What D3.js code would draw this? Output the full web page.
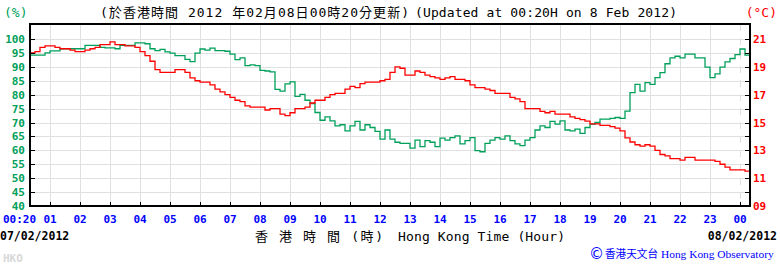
<!DOCTYPE html>
<html lang="zh-Hant">
<head>
<meta charset="UTF-8">
<title>Humidity / Temperature - Hong Kong Observatory</title>
<script src="https://d3js.org/d3.v7.min.js"></script>
<style>
  body { margin: 0; background: #fff; }
  svg { display: block; }
  .mono { font-family: "DejaVu Sans Mono", "Noto Sans CJK TC", monospace; }
  .tick { font-family: "DejaVu Sans Mono", monospace; font-weight: bold; font-size: 11px; }
</style>
</head>
<body>
<div id="chart"></div>
<script>
// readings every 10 minutes starting 07/02/2012 00:20
const startTime = new Date(2012, 1, 7, 0, 20);
const stepMinutes = 10;

// relative humidity (%)
const humidity = [
  94.2, 94.2, 94.2, 95.0, 95.7, 95.7, 96.5, 96.5, 96.5, 96.5,
  96.5, 97.7, 97.7, 97.7, 97.0, 96.8, 96.8, 96.5, 97.7, 97.7,
  97.7, 98.6, 98.6, 98.3, 96.5, 95.8, 96.3, 95.4, 94.9, 94.0,
  94.0, 92.7, 91.9, 94.9, 96.4, 96.0, 96.7, 95.8, 95.8, 95.6,
  94.6, 92.6, 93.2, 90.4, 90.7, 90.4, 88.7, 88.5, 88.2, 81.9,
  81.3, 83.9, 84.6, 79.4, 80.1, 78.0, 76.8, 73.6, 70.8, 72.0,
  70.6, 68.8, 69.2, 67.0, 68.8, 70.4, 67.3, 69.2, 68.2, 66.8,
  64.0, 67.3, 64.0, 62.9, 62.5, 62.5, 60.8, 63.7, 61.3, 63.5,
  62.9, 61.3, 64.4, 63.7, 64.6, 65.2, 62.3, 63.5, 64.6, 59.9,
  59.5, 62.5, 63.7, 64.6, 64.0, 65.2, 63.5, 62.3, 61.7, 63.7,
  64.6, 67.3, 68.8, 68.2, 70.4, 69.4, 70.6, 67.3, 67.0, 67.6,
  66.1, 68.2, 69.4, 70.0, 71.2, 71.2, 71.5, 71.8, 71.5, 74.1,
  80.7, 83.7, 81.3, 84.3, 83.7, 86.1, 87.9, 91.1, 93.2, 93.8,
  93.2, 94.6, 94.6, 93.2, 93.2, 89.9, 86.1, 87.5, 89.9, 91.8,
  93.0, 94.4, 96.4, 94.2, 95.8
];

// temperature (°C)
const temperature = [
  20.0, 20.1, 20.4, 20.5, 20.5, 20.4, 20.3, 20.3, 20.2, 20.1,
  20.1, 20.2, 20.3, 20.4, 20.6, 20.6, 20.8, 20.6, 20.6, 20.5,
  20.5, 20.4, 20.1, 19.8, 19.4, 18.8, 18.6, 18.6, 18.6, 18.8,
  18.8, 18.6, 18.2, 18.0, 17.9, 17.9, 17.7, 17.4, 17.2, 17.0,
  16.8, 16.6, 16.5, 16.2, 16.1, 16.1, 16.1, 15.9, 16.0, 16.0,
  15.6, 15.5, 15.7, 16.0, 16.0, 16.1, 16.4, 16.6, 16.6, 16.8,
  17.0, 17.1, 17.1, 17.4, 17.6, 17.5, 17.8, 17.9, 17.9, 17.9,
  18.0, 18.1, 18.6, 19.0, 18.9, 18.4, 18.4, 18.7, 18.6, 18.4,
  18.3, 18.2, 18.1, 18.2, 18.3, 18.1, 18.1, 18.0, 17.7, 17.5,
  17.5, 17.4, 17.3, 17.1, 17.1, 17.1, 16.8, 16.7, 16.5, 16.0,
  16.0, 16.0, 15.8, 15.7, 15.8, 15.6, 15.6, 15.6, 15.4, 15.3,
  15.2, 15.1, 14.9, 14.9, 14.8, 14.8, 14.7, 14.6, 14.4, 13.9,
  13.6, 13.4, 13.3, 13.4, 13.3, 13.0, 12.7, 12.6, 12.4, 12.4,
  12.3, 12.5, 12.5, 12.3, 12.3, 12.3, 12.3, 12.2, 12.0, 11.8,
  11.6, 11.6, 11.6, 11.5, 11.5
];

const pctLabels = [40, 45, 50, 55, 60, 65, 70, 75, 80, 85, 90, 95, 100];
const tempTicks = [10, 11, 12, 13, 14, 15, 16, 17, 18, 19, 20, 21];
const tempLabels = [9, 11, 13, 15, 17, 19, 21];

const titleZh = "(於香港時間 2012 年02月08日00時20分更新)";
const titleEn = "(Updated at 00:20H on 8 Feb 2012)";
const xTitleZh = "香 港 時 間 (時)";
const xTitleEn = "Hong Kong Time (Hour)";
const startLabel = "07/02/2012";
const endLabel = "08/02/2012";

const green = "#00a05a", red = "#ff0000", blue = "#0000ff", grid = "#e0e0e0";
const W = 780, H = 264;
const plot = { left: 30, right: 750, top: 24, bottom: 206 };

const svg = d3.select("#chart").append("svg")
  .attr("width", W).attr("height", H);

const times = humidity.map((d, i) => d3.timeMinute.offset(startTime, i * stepMinutes));
const endTime = d3.timeMinute.offset(startTime, 24 * 60);

const x = d3.scaleTime().domain([startTime, endTime]).range([plot.left, plot.right]);
const yPct = d3.scaleLinear().domain([40, 100]).range([plot.bottom, 39]);
const yTemp = d3.scaleLinear().domain([9, 21]).range([plot.bottom, 39]);

const hours = d3.timeHour.range(d3.timeHour.ceil(startTime), endTime);

// grid
const g = svg.append("g").attr("shape-rendering", "crispEdges");
g.selectAll(".hgrid").data(pctLabels.slice(1)).join("line")
  .attr("x1", plot.left).attr("x2", plot.right)
  .attr("y1", d => Math.round(yPct(d)) + 0.5).attr("y2", d => Math.round(yPct(d)) + 0.5)
  .attr("stroke", grid);
g.selectAll(".vgrid").data(hours).join("line")
  .attr("x1", d => Math.round(x(d)) + 0.5).attr("x2", d => Math.round(x(d)) + 0.5)
  .attr("y1", plot.top).attr("y2", plot.bottom)
  .attr("stroke", grid)
  .attr("stroke-dasharray", d => d.getHours() === 0 ? "7,7" : null);

// series
const lineHum = d3.line()
  .x((d, i) => x(times[i])).y(d => yPct(d))
  .curve(d3.curveStepAfter);
const lineTemp = d3.line()
  .x((d, i) => x(times[i])).y(d => yTemp(d))
  .curve(d3.curveStepAfter);

svg.append("path").datum(humidity)
  .attr("d", lineHum).attr("fill", "none")
  .attr("stroke", green).attr("stroke-width", 1.3);
svg.append("path").datum(temperature)
  .attr("d", lineTemp).attr("fill", "none")
  .attr("stroke", red).attr("stroke-width", 1.3);

// frame + inner ticks
const f = svg.append("g").attr("shape-rendering", "crispEdges").attr("stroke", "#000");
f.append("rect")
  .attr("x", plot.left).attr("y", plot.top)
  .attr("width", plot.right - plot.left).attr("height", plot.bottom - plot.top)
  .attr("fill", "none").attr("stroke-width", 1.5);
f.selectAll(".lt").data(pctLabels.slice(1)).join("line")
  .attr("x1", plot.left).attr("x2", plot.left + 5)
  .attr("y1", d => Math.round(yPct(d)) + 0.5).attr("y2", d => Math.round(yPct(d)) + 0.5);
f.selectAll(".rt").data(tempTicks).join("line")
  .attr("x1", plot.right - 5).attr("x2", plot.right)
  .attr("y1", d => Math.round(yTemp(d)) + 0.5).attr("y2", d => Math.round(yTemp(d)) + 0.5);
f.selectAll(".bt").data(hours).join("line")
  .attr("x1", d => Math.round(x(d)) + 0.5).attr("x2", d => Math.round(x(d)) + 0.5)
  .attr("y1", plot.bottom - 4).attr("y2", plot.bottom);

// axis labels
svg.selectAll(".pl").data(pctLabels).join("text")
  .attr("class", "tick")
  .attr("x", 25).attr("y", d => yPct(d) + 4)
  .attr("text-anchor", "end").attr("fill", green)
  .text(d => d);
svg.selectAll(".tl").data(tempLabels).join("text")
  .attr("class", "tick")
  .attr("x", 753).attr("y", d => yTemp(d) + 4)
  .attr("fill", red)
  .text(d => d3.format("02d")(d));
svg.selectAll(".xl").data(hours).join("text")
  .attr("class", "tick")
  .attr("x", d => x(d)).attr("y", 223)
  .attr("text-anchor", "middle").attr("fill", blue)
  .text(d3.timeFormat("%H"));
svg.append("text").attr("class", "tick")
  .attr("x", 3).attr("y", 223).attr("fill", blue)
  .text(d3.timeFormat("%H:%M")(startTime));

// dates
svg.append("text").attr("class", "tick").style("font-size", "11.5px")
  .attr("x", 0).attr("y", 240).attr("fill", "#000").text(startLabel);
svg.append("text").attr("class", "tick").style("font-size", "11.5px")
  .attr("x", 777).attr("y", 240).attr("text-anchor", "end").attr("fill", "#000").text(endLabel);

// titles
svg.append("text").attr("class", "mono").style("font-size", "13px")
  .attr("x", 100).attr("y", 17).attr("textLength", 309).attr("lengthAdjust", "spacing")
  .text(titleZh);
svg.append("text").attr("class", "mono").style("font-size", "13px")
  .attr("x", 415).attr("y", 17).attr("textLength", 262).attr("lengthAdjust", "spacing")
  .text(titleEn);
svg.append("text").attr("class", "mono").style("font-size", "13px")
  .attr("x", 4).attr("y", 17).attr("fill", green).text("(%)");
svg.append("text").attr("class", "mono").style("font-size", "13px")
  .attr("x", 777).attr("y", 17).attr("text-anchor", "end").attr("fill", red).text("(°C)");

svg.append("text").attr("class", "mono").style("font-size", "13px")
  .attr("x", 255).attr("y", 241).attr("textLength", 128).attr("lengthAdjust", "spacing")
  .text(xTitleZh);
svg.append("text").attr("class", "mono").style("font-size", "13px")
  .attr("x", 398).attr("y", 241).attr("textLength", 167).attr("lengthAdjust", "spacing")
  .text(xTitleEn);

// credit
svg.append("text")
  .attr("x", 589).attr("y", 259).attr("fill", blue)
  .style("font-family", "'DejaVu Sans', sans-serif").style("font-size", "15px")
  .text("©");
svg.append("text")
  .attr("x", 605).attr("y", 258).attr("fill", blue)
  .attr("textLength", 53).attr("lengthAdjust", "spacingAndGlyphs")
  .style("font-family", "'Noto Sans CJK TC', sans-serif").style("font-size", "11px")
  .text("香港天文台");
svg.append("text")
  .attr("x", 661).attr("y", 258).attr("fill", blue)
  .style("font-family", "'Liberation Serif', serif").style("font-size", "11.4px")
  .text("Hong Kong Observatory");

svg.append("text").attr("class", "tick")
  .attr("x", 3).attr("y", 262).attr("fill", "#d8d8d8").text("HKO");
</script>
</body>
</html>
